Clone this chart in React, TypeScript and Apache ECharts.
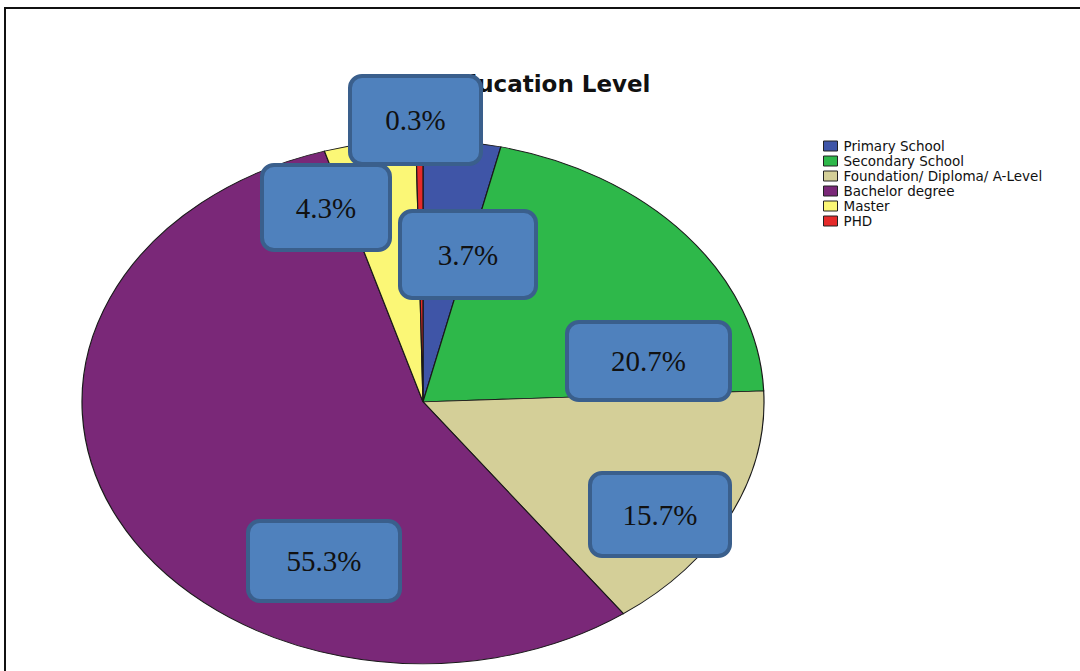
import React, { useEffect, useRef } from "react";
import * as echarts from "echarts";

const categories = [
  "Primary School",
  "Secondary School",
  "Foundation/ Diploma/ A-Level",
  "Bachelor degree",
  "Master",
  "PHD",
];
const counts = [11, 62, 47, 166, 13, 1];
const colors = ["#3F55A7", "#2EB84A", "#D4CF98", "#7A2878", "#FBF776", "#E52A2A"];
const titleText = "Education Level";

// label box layout [x, y, width, height] per category
const labelBoxes = [
  [400, 211, 136, 87],
  [567, 322, 163, 78],
  [590, 473, 140, 83],
  [248, 521, 152, 80],
  [262, 165, 128, 85],
  [350, 76, 131, 88],
];

const PIE = { cx: 423, cy: 402, rx: 341, ry: 262 };

export default function App() {
  const ref = useRef<HTMLDivElement>(null);
  useEffect(() => {
    if (!ref.current) return;
    const chart = echarts.init(ref.current, null, { renderer: "svg" });
    const total = counts.reduce((a, b) => a + b, 0);
    const series = categories.map((name, i) => {
      const before = counts.slice(0, i).reduce((a, b) => a + b, 0);
      return {
        type: "custom",
        name,
        coordinateSystem: "none",
        itemStyle: { color: colors[i] },
        data: [counts[i]],
        renderItem: (params: any, api: any) => {
          const v = api.value(0);
          const start = -Math.PI / 2 + (before / total) * Math.PI * 2;
          const end = start + (v / total) * Math.PI * 2;
          const [bx, by, bw, bh] = labelBoxes[i];
          const pct = ((v / total) * 100).toFixed(1) + "%";
          return {
            type: "group",
            children: [
              {
                type: "sector",
                shape: { cx: PIE.cx, cy: PIE.cy, r: PIE.rx, r0: 0, startAngle: start, endAngle: end, clockwise: true },
                originX: PIE.cx,
                originY: PIE.cy,
                scaleY: PIE.ry / PIE.rx,
                style: { fill: api.visual("color"), stroke: "#1a1a1a", lineWidth: 1.2, strokeNoScale: true },
                z2: 0,
              },
              {
                type: "rect",
                shape: { x: bx, y: by, width: bw, height: bh, r: 12 },
                style: { fill: "#4F81BD", stroke: "#3A5F8C", lineWidth: 4 },
                z2: 100,
              },
              {
                type: "text",
                x: bx + bw / 2,
                y: by + bh / 2,
                style: {
                  text: pct,
                  font: '29px "Liberation Serif"',
                  fill: "#111",
                  align: "center",
                  verticalAlign: "middle",
                },
                z2: 101,
              },
            ],
          };
        },
      };
    });

    chart.setOption({
      animation: false,
      backgroundColor: "#ffffff",
      title: {
        text: titleText,
        left: 440,
        top: 67,
        z: 1,
        textStyle: { fontFamily: "DejaVu Sans", fontWeight: "bold", fontSize: 23, color: "#111" },
      },
      legend: {
        orient: "vertical",
        left: 823,
        top: 139,
        padding: 0,
        itemGap: 1,
        itemWidth: 14,
        itemHeight: 10,
        icon: "rect",
        selectedMode: false,
        data: categories,
        itemStyle: { borderColor: "#222", borderWidth: 1 },
        textStyle: { fontFamily: "DejaVu Sans", fontSize: 13.5, color: "#111", lineHeight: 14, padding: [0, 0, 0, 1] },
      },
      graphic: [
        {
          type: "polyline",
          shape: { points: [[5, 671], [5, 8], [1080, 8]] },
          style: { stroke: "#111", lineWidth: 2, fill: null },
        },
      ],
      series,
    });
    return () => chart.dispose();
  }, []);
  return (
    <div
      ref={ref}
      style={{ position: "fixed", left: 0, top: 0, width: 1080, height: 671, background: "#fff" }}
    />
  );
}
